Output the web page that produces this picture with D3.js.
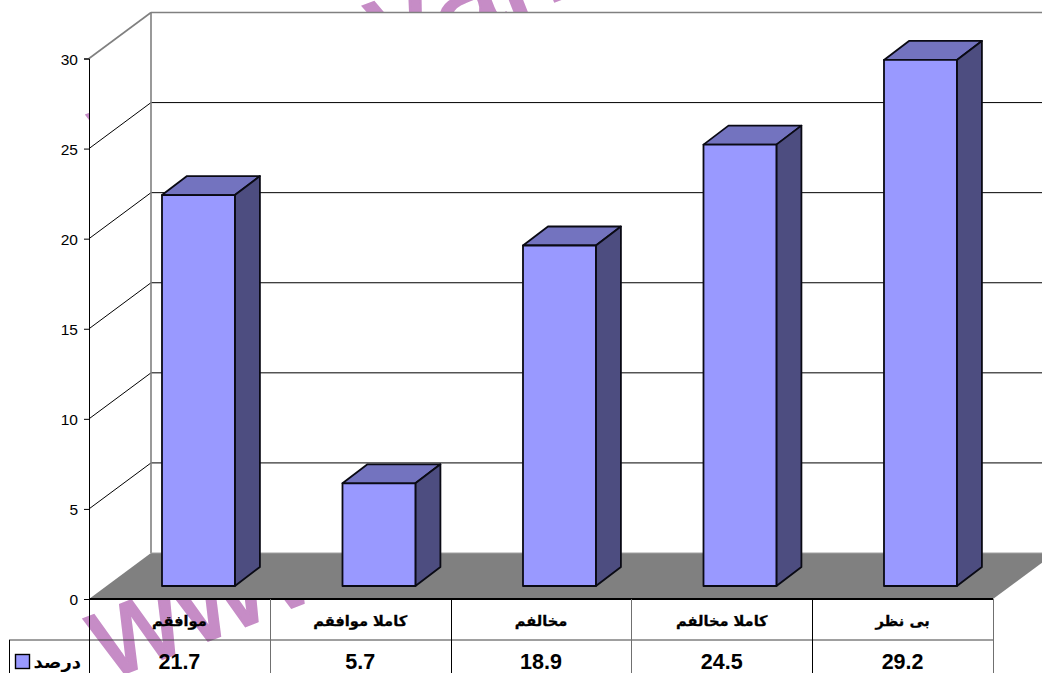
<!DOCTYPE html>
<html><head><meta charset="utf-8">
<script src="https://cdn.jsdelivr.net/npm/d3@7"></script>
<style>html,body{margin:0;padding:0;background:#fff;overflow:hidden}svg{display:block}</style>
</head><body><svg id="c" width="1042" height="673"></svg>
<script>
const categories = ["موافقم","کاملا موافقم","مخالفم","کاملا مخالفم","بی نظر"];
const values = [21.7,5.7,18.9,24.5,29.2];
const valueLabels = ["21.7","5.7","18.9","24.5","29.2"];
const yTicks = [0,5,10,15,20,25,30];
const seriesName = "درصد";
const watermarkRows = ["www.", "www.van"];

const svg = d3.select("#c");
const W=1042,H=673;
const x0=89, x1=993, dx=62, dy=46;
const y = d3.scaleLinear().domain([0,30]).range([599,58.5]);
const cat = d3.scaleBand().domain(categories).range([x0,x1]);
const bar = d3.scaleBand().domain(categories).range([x0+19.2,x0+19.2+902.5]).paddingInner(.596).paddingOuter(.298);
const pts = a=>a.map(p=>p.join(",")).join(" ");

// watermark
const wm = svg.append("g").attr("fill","#c68cc6").attr("stroke","#c68cc6").attr("stroke-width",2.5).attr("font-family","'Liberation Sans'").attr("font-size",124);
wm.append("text").attr("transform","translate(108,680) rotate(-21.5)").text(watermarkRows[0]);
wm.append("text").attr("transform","translate(111,176) rotate(-21.5)").text(watermarkRows[1]);

// plot cover
svg.append("rect").attr("x",x0).attr("y",y(30)-dy).attr("width",W-x0).attr("height",599-(y(30)-dy)).attr("fill","#fff");

// floor
svg.append("polygon").attr("points",pts([[x0,599],[x0+dx,599-dy],[W,599-dy],[W,599-dy+ (x1+dx-W)*dy/dx],[x1,599]])).attr("fill","#808080");
// gridlines
yTicks.forEach(t=>{
  if(t===0) return;
  const c = t===30?"#808080":"#000", w=t===30?1.6:1;
  svg.append("line").attr("x1",x0).attr("y1",y(t)).attr("x2",x0+dx).attr("y2",y(t)-dy).attr("stroke",c).attr("stroke-width",w);
  svg.append("line").attr("x1",x0+dx).attr("y1",y(t)-dy).attr("x2",W).attr("y2",y(t)-dy).attr("stroke",c).attr("stroke-width",w);
});
svg.append("line").attr("x1",x0+dx).attr("x2",x0+dx).attr("y1",y(30)-dy).attr("y2",599-dy).attr("stroke","#808080").attr("stroke-width",1.6);
svg.append("line").attr("x1",x0+dx).attr("x2",W).attr("y1",599-dy).attr("y2",599-dy).attr("stroke","#a0a0a0").attr("stroke-width",1);

// bars
const zF=13, bdx=25, bdy=19;
const g = svg.append("g").attr("stroke","#0a0a14").attr("stroke-width",1.8).attr("stroke-linejoin","round");
categories.forEach((c,i)=>{
  const l=bar(c), r=l+bar.bandwidth(), b=y(0)-zF, t=y(values[i])-zF;
  g.append("polygon").attr("points",pts([[l,t],[l+bdx,t-bdy],[r+bdx,t-bdy],[r,t]])).attr("fill","#7373bf");
  g.append("polygon").attr("points",pts([[r,t],[r+bdx,t-bdy],[r+bdx,b-bdy],[r,b]])).attr("fill","#4d4d80");
  g.append("rect").attr("x",l).attr("y",t).attr("width",r-l).attr("height",b-t).attr("fill","#9999ff");
});

// axis
const ax = svg.append("g").attr("transform",`translate(${x0},0)`).call(d3.axisLeft(y).tickValues(yTicks).tickSize(5).tickPadding(6));
ax.selectAll("path").attr("stroke","#000");
ax.selectAll("line").attr("stroke","#000");
ax.selectAll("text").attr("font-family","'Liberation Sans'").attr("font-size",15.5).attr("fill","#000").attr("dy",".36em");

// table
const tb = svg.append("g");
tb.append("line").attr("x1",x0).attr("x2",x1).attr("y1",599).attr("y2",599).attr("stroke","#000").attr("stroke-width",1.8);
tb.append("line").attr("x1",9).attr("x2",x1).attr("y1",640).attr("y2",640).attr("stroke","#404040").attr("stroke-width",1);
[...categories.map(c=>cat(c)),x1].forEach((v,i)=>{
  tb.append("line").attr("x1",Math.round(v)+.5).attr("x2",Math.round(v)+.5).attr("y1",599).attr("y2",673)
    .attr("stroke",(i==2||i==4||i==0)?"#000":"#707070");
});
tb.append("line").attr("x1",9.5).attr("x2",9.5).attr("y1",640).attr("y2",673).attr("stroke","#000");
categories.forEach((c,i)=>{
  tb.append("text").attr("x",cat(c)+cat.bandwidth()/2).attr("y",626).attr("text-anchor","middle")
    .attr("direction","rtl").attr("font-family","'DejaVu Sans'").attr("font-weight","bold").attr("font-size",14.6).attr("fill","#000").attr("stroke","#000").attr("stroke-width",.3).text(c);
  tb.append("text").attr("x",cat(c)+cat.bandwidth()/2).attr("y",669).attr("text-anchor","middle")
    .attr("font-family","'Liberation Sans'").attr("font-weight","bold").attr("font-size",21.5).attr("fill","#000").text(valueLabels[i]);
});
tb.append("rect").attr("x",15.5).attr("y",654.5).attr("width",14).attr("height",14).attr("fill","#9999ff").attr("stroke","#000").attr("stroke-width",1.4);
tb.append("text").attr("x",81).attr("y",668).attr("text-anchor","end").attr("font-family","'DejaVu Sans'").attr("font-weight","bold").attr("font-size",18).attr("fill","#000").text(seriesName);
</script></body></html>
